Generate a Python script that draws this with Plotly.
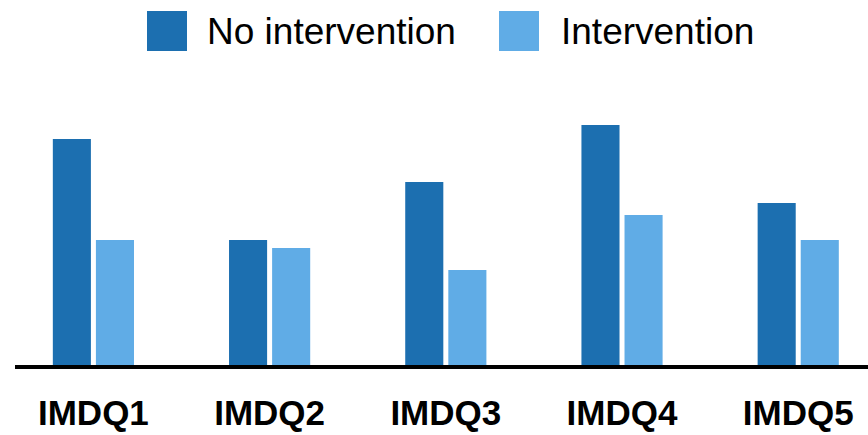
import plotly.graph_objects as go

categories = ["IMDQ1", "IMDQ2", "IMDQ3", "IMDQ4", "IMDQ5"]
no_intervention = [0.452, 0.25, 0.366, 0.48, 0.324]
intervention = [0.25, 0.234, 0.19, 0.30, 0.25]
series_names = ["No intervention", "Intervention"]
colors = ["#1c6fb0", "#60ace6"]

FONT = "Liberation Sans, Arial, sans-serif"

fig = go.Figure()
fig.add_trace(go.Bar(x=categories, y=no_intervention, name=series_names[0],
                     marker=dict(color=colors[0], line=dict(width=0)), showlegend=False))
fig.add_trace(go.Bar(x=categories, y=intervention, name=series_names[1],
                     marker=dict(color=colors[1], line=dict(width=0)), showlegend=False))

W, H = 868, 435
L, R, T, B = 15, 0, 100, 70
pw, ph = W - L - R, H - T - B

def px_x(p):
    return (p - L) / pw

def px_y(p):
    return (H - B - p) / ph

# manual legend (large squares)
legend_items = [(147, 187, 205), (499, 539, 559)]
for (x0, x1, tx), name, c in zip(legend_items, series_names, colors):
    fig.add_shape(type="rect", xref="paper", yref="paper",
                  x0=px_x(x0), x1=px_x(x1), y0=px_y(51), y1=px_y(11),
                  fillcolor=c, line=dict(width=0))
    fig.add_annotation(xref="paper", yref="paper", x=px_x(tx), y=px_y(31),
                       xanchor="left", yanchor="middle", text=name, showarrow=False,
                       font=dict(family=FONT, size=37, color="black"))

fig.update_layout(
    width=W, height=H,
    margin=dict(l=L, r=R, t=T, b=B),
    paper_bgcolor="white", plot_bgcolor="white",
    barmode="group", bargap=0.511, bargroupgap=0.116,
    font=dict(family=FONT, color="black"),
    xaxis=dict(range=[-0.445, 4.396], showline=True, linecolor="black", linewidth=4,
               ticks="", showgrid=False, zeroline=False,
               tickfont=dict(family=FONT, size=35, color="black", weight="bold"),
               ticklabelstandoff=14),
    yaxis=dict(range=[0, 0.53], visible=False, showgrid=False, zeroline=False),
)

fig.write_html("out.html", config={"displayModeBar": False},
               post_script="document.body.style.margin='0';document.body.style.overflow='hidden';")
